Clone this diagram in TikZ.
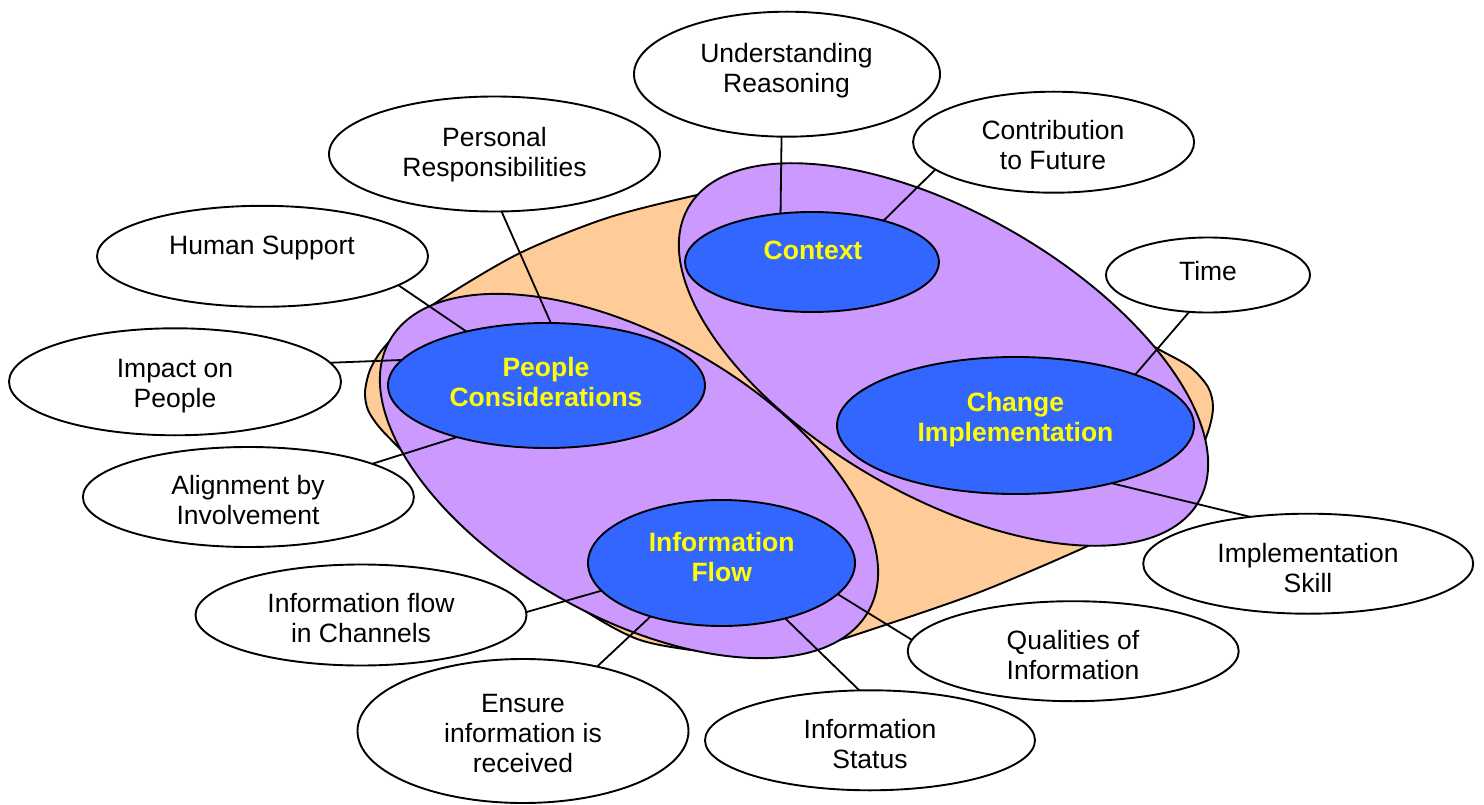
\documentclass[tikz,border=0pt]{standalone}
\usepackage{fontspec}
\setmainfont{Liberation Sans}
\usetikzlibrary{shapes.geometric}
\definecolor{peach}{RGB}{255,204,153}
\definecolor{lilac}{RGB}{204,153,255}
\definecolor{royal}{RGB}{51,102,255}
\definecolor{yell}{RGB}{255,255,0}
\tikzset{
  outline/.style={draw=black, line width=1.9pt},
  group/.style={ellipse, outline, fill=lilac, inner sep=0pt, outer sep=0pt},
  sat/.style={ellipse, outline, fill=white, inner sep=0pt, outer sep=0pt},
  hub/.style={ellipse, outline, fill=royal, inner sep=0pt, outer sep=0pt},
  lbl/.style={align=center, inner sep=0pt, font=\fontsize{26.5}{30}\selectfont},
  hublbl/.style={align=center, inner sep=0pt, text=yell, font=\fontsize{26.5}{30}\selectfont\bfseries},
  conn/.style={draw=black, line width=1.8pt},
}
\begin{document}
\begin{tikzpicture}[x=1pt,y=-1pt]
\useasboundingbox (0,0) rectangle (1484,805);
% orange background blob
\draw[outline, fill=peach] plot[smooth cycle, tension=0.5] coordinates {
 (365,392) (370,370) (382,350) (405,326) (443,298) (520,253) (607,218) (697,195)
 (745,186) (790,182) (840,190) (900,218) (980,258) (1060,298) (1120,328) (1160,350)
 (1190,367) (1208,387) (1213,407) (1208,432) (1192,468) (1160,500) (1125,525) (1090,545)
 (980,592) (870,630) (820,645) (760,653) (700,651) (640,640) (590,614) (540,578)
 (480,528) (432,484) (403,452) (380,428) (368,410)};
% purple groups
\node[group, minimum width=550pt, minimum height=280pt, rotate=-29.5] (grpA) at (629,476) {};
\node[group, minimum width=589pt, minimum height=282pt, rotate=-30] (grpB) at (943.5,354.5) {};
% hubs
\node[hub, minimum width=254pt, minimum height=100pt] (ctx) at (812,262) {};
\node[hub, minimum width=317pt, minimum height=125pt] (pc) at (546.5,385.5) {};
\node[hub, minimum width=357pt, minimum height=137pt] (ci) at (1015.5,425.5) {};
\node[hub, minimum width=267pt, minimum height=126pt] (inf) at (721.5,563) {};
% satellites
\node[sat, minimum width=306pt, minimum height=125pt] (ur) at (787,74.2) {};
\node[sat, minimum width=331pt, minimum height=115pt] (pr) at (494.5,154) {};
\node[sat, minimum width=281pt, minimum height=101pt] (cf) at (1053.6,142.2) {};
\node[sat, minimum width=331pt, minimum height=101pt] (hs) at (262.5,256.3) {};
\node[sat, minimum width=204pt, minimum height=75pt] (tm) at (1208,275) {};
\node[sat, minimum width=332pt, minimum height=107pt] (ip) at (175,381.8) {};
\node[sat, minimum width=331pt, minimum height=100pt] (al) at (248.4,497) {};
\node[sat, minimum width=331pt, minimum height=101pt] (ic) at (361,615) {};
\node[sat, minimum width=331pt, minimum height=144pt] (en) at (523,731) {};
\node[sat, minimum width=330pt, minimum height=100pt] (is) at (870,740.3) {};
\node[sat, minimum width=331pt, minimum height=100pt] (qi) at (1073.2,651.2) {};
\node[sat, minimum width=330pt, minimum height=100pt] (ik) at (1308.2,563.7) {};
% connectors
\draw[conn] (ur.265) -- (ctx.123);
\draw[conn] (cf.193) -- (ctx.30);
\draw[conn] (tm.243) -- (ci.23);
\draw[conn] (ci.-31) -- (ik.141);
\draw[conn] (pr.-83) -- (pc.86);
\draw[conn] (hs.-12) -- (pc.146);
\draw[conn] (ip.7) -- (pc.170);
\draw[conn] (al.15) -- (pc.210);
\draw[conn] (ic.1) -- (inf.193);
\draw[conn] (en.41) -- (inf.217);
\draw[conn] (is.102) -- (inf.-41);
\draw[conn] (qi.176) -- (inf.-15);
% hub labels
\node[hublbl] (ctx-t) at (813,253.5) {\strut Context};
\node[hublbl] (pc-t) at (546,385.2) {\strut People\\\strut Considerations};
\node[hublbl] (ci-t) at (1015.5,420.2) {\strut Change\\\strut Implementation};
\node[hublbl] (inf-t) at (721.7,560.2) {\strut Information\\\strut Flow};
% satellite labels
\node[lbl] (ur-t) at (786.5,71.8) {\strut Understanding\\\strut Reasoning};
\node[lbl] (pr-t) at (494.5,155.2) {\strut Personal\\\strut Responsibilities};
\node[lbl] (cf-t) at (1053,148.5) {\strut Contribution\\\strut to Future};
\node[lbl] (hs-t) at (262,248.5) {\strut Human Support};
\node[lbl] (tm-t) at (1208,274.2) {\strut Time};
\node[lbl] (ip-t) at (175,386.7) {\strut Impact on\\\strut People};
\node[lbl] (al-t) at (248,503.8) {\strut Alignment by\\\strut Involvement};
\node[lbl] (ic-t) at (361,621.4) {\strut Information flow\\\strut in Channels};
\node[lbl] (en-t) at (523,736.6) {\strut Ensure\\\strut information is\\\strut received};
\node[lbl] (is-t) at (870,747.2) {\strut Information\\\strut Status};
\node[lbl] (qi-t) at (1073,658) {\strut Qualities of\\\strut Information};
\node[lbl] (ik-t) at (1308,571.3) {\strut Implementation\\\strut Skill};
\end{tikzpicture}
\end{document}
